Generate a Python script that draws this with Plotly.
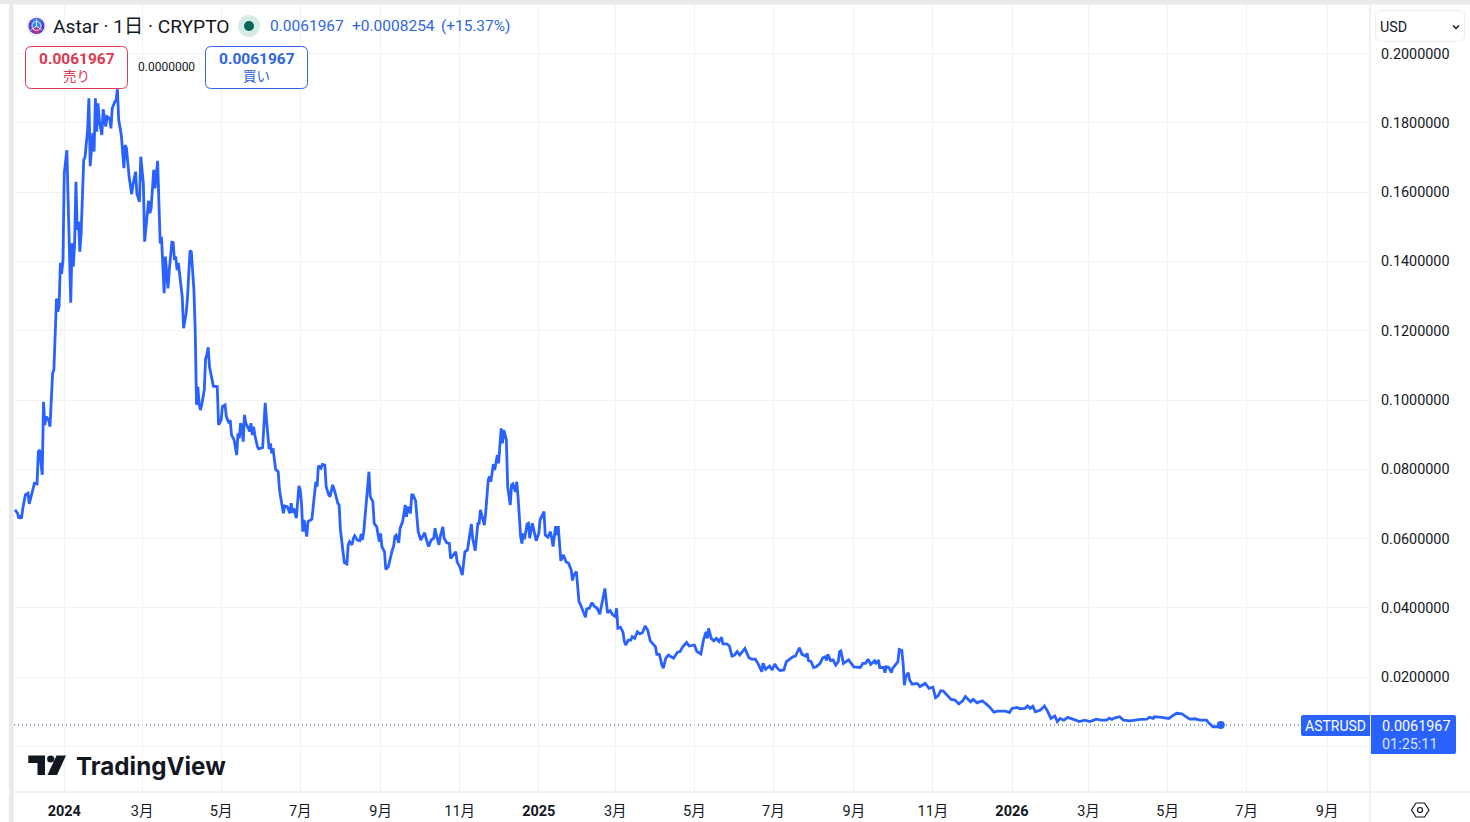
import pandas as pd
import plotly.graph_objects as go

# Daily ASTR/USD closes, stored as (days since first bar, price) per period.
START_DATE = "2023-11-24"

days_rally = [0,2,3,4,5,6,8,10,11,13,14,15,17,18,19,20,21,22,23,24,26,27,29,30,32,33,34,35,36,37,38,40,41,43,44,45,46,47,48,49,50,51,53,54,56,57,58,60,61,62,63,64,65,67,68,69,70,71,73,74,75,77,78,79,80,82,83,84,85,86,88,90,91,93,94,96,97,99,100,102,103,104,105,107,108,110,111,112,113,115,116,118,119,121,122,123,124,125,126,127,129,130]
prices_rally = [.0683,.0673,.0658,.0663,.0658,.0687,.0726,.0731,.0700,.0735,.0745,.0760,.0758,.0851,.0856,.0808,.0784,.0995,.0928,.0952,.0942,.0923,.1077,.1087,.1293,.1255,.1269,.1396,.1364,.1404,.1654,.1721,.1539,.1281,.1452,.1385,.1452,.1630,.1491,.1515,.1428,.1481,.1693,.1700,.1779,.1871,.1675,.1770,.1717,.1871,.1774,.1856,.1808,.1765,.1839,.1818,.1789,.1818,.1813,.1784,.1842,.1861,.1866,.1897,.1808,.1765,.1717,.1669,.1736,.1726,.1645,.1594,.1621,.1659,.1596,.1572,.1702,.1625,.1457,.1553,.1575,.1539,.1553,.1664,.1611,.1690,.1539,.1452,.1471,.1308,.1414,.1322,.1375,.1455,.1454,.1404,.1414,.1375,.1396,.1365,.1298,.1207]

days_2024 = [132,133,135,136,138,139,140,141,142,143,144,146,147,148,149,150,151,153,156,157,159,160,162,163,165,166,167,169,171,172,173,174,175,176,177,178,180,181,182,183,184,185,187,188,191,193,194,196,197,198,199,200,201,203,204,207,208,210,212,213,214,215,217,219,220,221,222,223,225,226,229,230,232,233,234,236,237,239,240,242,243,245,246,247,249,250,251,253,254,256,257,258,260,261,262,264,266,267,268,269,271,273,274,276,277,279,281,282,283,285,286,288,291,292,293,294,296,297,299,301,302,303,305,306,307,309,310,311,313,315,316,317,319,321,323,324,325,327,328,330,331,333,335,336,338,340,341,343,345,347,349,351,352,353,355,357,358,359,360,362,363,365,366,367,369,370,372,373,375,376,377,379,380,381,382,383,384,386,387,388,390]
prices_2024 = [.1250,.1293,.1431,.1428,.1317,.1202,.0986,.1039,.0990,.0971,.0986,.1029,.1120,.1130,.1152,.1096,.1077,.1040,.1039,.0928,.0942,.0981,.0986,.0952,.0933,.0942,.0899,.0885,.0841,.0904,.0889,.0933,.0923,.0880,.0957,.0933,.0918,.0909,.0933,.0899,.0923,.0899,.0865,.0859,.0863,.0992,.0942,.0858,.0875,.0846,.0861,.0827,.0800,.0793,.0740,.0673,.0694,.0692,.0673,.0702,.0675,.0687,.0659,.0752,.0740,.0702,.0620,.0654,.0606,.0649,.0656,.0692,.0764,.0750,.0810,.0803,.0814,.0812,.0750,.0726,.0721,.0755,.0745,.0731,.0702,.0697,.0625,.0553,.0531,.0527,.0582,.0591,.0582,.0601,.0608,.0596,.0594,.0613,.0596,.0620,.0711,.0793,.0721,.0707,.0644,.0634,.0591,.0615,.0577,.0562,.0511,.0519,.0567,.0577,.0606,.0610,.0588,.0630,.0649,.0697,.0663,.0692,.0673,.0726,.0726,.0709,.0663,.0620,.0596,.0610,.0617,.0601,.0577,.0596,.0601,.0630,.0610,.0582,.0606,.0634,.0601,.0588,.0586,.0543,.0553,.0562,.0533,.0519,.0495,.0562,.0567,.0620,.0642,.0601,.0565,.0644,.0644,.0683,.0668,.0639,.0673,.0769,.0779,.0764,.0815,.0798,.0841,.0817,.0918,.0875,.0913,.0885,.0750,.0721,.0697,.0755,.0758,.0735,.0764,.0721,.0606]

days_2025 = [391,392,393,395,396,397,399,401,402,404,405,408,409,411,413,414,415,417,418,419,421,423,425,427,429,430,431,433,435,436,438,440,441,443,445,447,449,451,453,455,457,459,461,463,464,465,467,469,470,471,473,475,476,478,480,482,484,486,488,490,492,494,495,497,499,500,502,504,506,508,511,513,515,518,520,524,526,529,531,533,534,535,537,539,541,543,545,546,549,551,553,555,557,559,563,566,568,571,573,576,577,579,582,584,586,588,590,593,595,598,600,602,605,607,610,611,612,614,616,618,621,623,625,626,627,629,631,633,635,636]
prices_2025 = [.0586,.0615,.0598,.0642,.0644,.0601,.0644,.0610,.0594,.0615,.0654,.0678,.0610,.0604,.0620,.0601,.0577,.0636,.0610,.0636,.0536,.0553,.0533,.0529,.0509,.0479,.0495,.0505,.0418,.0411,.0392,.0373,.0397,.0399,.0415,.0404,.0399,.0382,.0418,.0456,.0386,.0392,.0380,.0375,.0399,.0341,.0344,.0329,.0303,.0293,.0307,.0307,.0317,.0312,.0331,.0325,.0329,.0348,.0336,.0305,.0296,.0288,.0266,.0266,.0235,.0226,.0255,.0264,.0259,.0255,.0272,.0274,.0288,.0300,.0290,.0293,.0274,.0267,.0307,.0331,.0312,.0341,.0312,.0305,.0312,.0303,.0315,.0296,.0296,.0290,.0261,.0264,.0274,.0264,.0283,.0257,.0252,.0252,.0240,.0216,.0240,.0223,.0232,.0221,.0238,.0226,.0219,.0221,.0245,.0255,.0259,.0261,.0285,.0266,.0261,.0269,.0248,.0245,.0228,.0230,.0240,.0256,.0259,.0248,.0266,.0248,.0250,.0235,.0245,.0274]

days_late = [637,639,643,647,650,652,654,656,658,660,663,664,666,667,670,671,672,674,676,677,680,681,682,684,685,686,687,689,690,692,696,698,702,705,708,710,712,714,716,719,722,725,728,731,733,737,739,742,746,749,752,755,758,764,767,769,773,775,779,781,783,785,787,791,794,796,799,802,804,806,809,812,816,821,825,829,834,838,842,844,846,848,852,855,860,863,868,873,875,878,879,884,890,893,896,900,906,910,914,919,920,924,928,930]
prices_late = [.0276,.0240,.0250,.0230,.0230,.0228,.0240,.0240,.0252,.0237,.0247,.0238,.0250,.0228,.0228,.0213,.0230,.0228,.0213,.0226,.0240,.0245,.0280,.0277,.0240,.0177,.0201,.0213,.0192,.0180,.0182,.0173,.0182,.0168,.0171,.0141,.0146,.0161,.0160,.0149,.0136,.0134,.0123,.0132,.0144,.0129,.0136,.0126,.0132,.0123,.0113,.0099,.0102,.0102,.0098,.0110,.0113,.0109,.0110,.0117,.0110,.0116,.0100,.0105,.0117,.0105,.0081,.0088,.0072,.0081,.0076,.0084,.0078,.0072,.0076,.0072,.0079,.0076,.0076,.0082,.0078,.0082,.0086,.0076,.0074,.0076,.0078,.0079,.0084,.0081,.0086,.0084,.0081,.0089,.0096,.0094,.0079,.0080,.0076,.0076,.0071,.0057,.0057,.0061967]

LAST_PRICE = 0.0061967

month_ticks = ["2024-01-01","2024-03-01","2024-05-01","2024-07-01","2024-09-01","2024-11-01",
               "2025-01-01","2025-03-01","2025-05-01","2025-07-01","2025-09-01","2025-11-01",
               "2026-01-01","2026-03-01","2026-05-01","2026-07-01","2026-09-01"]
month_labels = ["<b>2024</b>","3月","5月","7月","9月","11月",
                "<b>2025</b>","3月","5月","7月","9月","11月",
                "<b>2026</b>","3月","5月","7月","9月"]
price_ticks = [0,.02,.04,.06,.08,.10,.12,.14,.16,.18,.20]
price_labels = ["","0.0200000","0.0400000","0.0600000","0.0800000","0.1000000",
                "0.1200000","0.1400000","0.1600000","0.1800000","0.2000000"]

W, H = 1470, 822
L, R, T, B = 14, 1370, 5, 792
BLUE = "#2962ff"
QUOTE_BLUE = "#2f66e0"
RED = "#e0394f"
INK = "#131722"
GRID = "#f1f2f5"
EDGE = "#e0e3e8"
FONT = "Roboto, 'Noto Sans CJK JP', sans-serif"

all_days = days_rally + days_2024 + days_2025 + days_late
all_prices = prices_rally + prices_2024 + prices_2025 + prices_late
assert len(all_days) == len(all_prices)
dates = pd.Timestamp(START_DATE) + pd.to_timedelta(all_days, unit="D")

DAY_PX = 1.2965
x_lo = pd.Timestamp(START_DATE) + pd.Timedelta(days=(L - 15) / DAY_PX)
x_hi = pd.Timestamp(START_DATE) + pd.Timedelta(days=(R - 15) / DAY_PX)


# Overlay furniture is laid out in page pixels and converted to paper space.
def px(x):
    return (x - L) / (R - L)


def py(y):
    return (B - y) / (B - T)


def path(points, close=True):
    cmds = [f"{'M' if i == 0 else 'L'} {px(a):.5f} {py(b):.5f}" for i, (a, b) in enumerate(points)]
    return " ".join(cmds) + (" Z" if close else "")


def round_rect(x0, y0, x1, y1, r_left=6.0, r_right=6.0):
    a, b = px, py
    return (f"M {a(x0 + r_left):.5f} {b(y0):.5f} L {a(x1 - r_right):.5f} {b(y0):.5f} "
            f"Q {a(x1):.5f} {b(y0):.5f} {a(x1):.5f} {b(y0 + r_right):.5f} "
            f"L {a(x1):.5f} {b(y1 - r_right):.5f} "
            f"Q {a(x1):.5f} {b(y1):.5f} {a(x1 - r_right):.5f} {b(y1):.5f} "
            f"L {a(x0 + r_left):.5f} {b(y1):.5f} "
            f"Q {a(x0):.5f} {b(y1):.5f} {a(x0):.5f} {b(y1 - r_left):.5f} "
            f"L {a(x0):.5f} {b(y0 + r_left):.5f} "
            f"Q {a(x0):.5f} {b(y0):.5f} {a(x0 + r_left):.5f} {b(y0):.5f} Z")


shapes = []


def add_path(d, fill="rgba(0,0,0,0)", line=None, width=1):
    shapes.append(dict(type="path", xref="paper", yref="paper", path=d, fillcolor=fill,
                       line=dict(color=line or "rgba(0,0,0,0)", width=width if line else 0),
                       layer="above"))


def add_box(x0, y0, x1, y1, fill):
    shapes.append(dict(type="rect", xref="paper", yref="paper", x0=px(x0), x1=px(x1),
                       y0=py(y0), y1=py(y1), fillcolor=fill, line=dict(width=0), layer="above"))


def add_disc(cx, cy, r, fill, line=None, width=1):
    shapes.append(dict(type="circle", xref="paper", yref="paper", x0=px(cx - r), x1=px(cx + r),
                       y0=py(cy + r), y1=py(cy - r), fillcolor=fill,
                       line=dict(color=line, width=width) if line else dict(width=0), layer="above"))


annotations = []


def add_text(x, y, text, size=14, color=INK, anchor="left", weight=None, family=FONT):
    font = dict(family=family, size=size, color=color)
    if weight:
        font["weight"] = weight
    annotations.append(dict(xref="paper", yref="paper", x=px(x), y=py(y), text=text, showarrow=False,
                            xanchor=anchor, yanchor="middle", font=font, borderpad=0, borderwidth=0))


# Page frame around the chart pane
add_box(0, 0, 1470, 4.5, "#e9e9e9")
add_box(9, 0, 13.5, 822, "#e9e9e9")
add_box(0, 4.5, 9, 822, "#ffffff")

# Axis separators
shapes.append(dict(type="line", xref="paper", yref="paper", x0=px(14), x1=px(1470), y0=py(B), y1=py(B),
                   line=dict(color=EDGE, width=1), layer="above"))
shapes.append(dict(type="line", xref="paper", yref="paper", x0=px(R), x1=px(R), y0=py(5), y1=py(822),
                   line=dict(color=EDGE, width=1), layer="above"))

# Last-price guide line, kept beneath the series
shapes.append(dict(type="line", xref="paper", yref="y", x0=0, x1=1, y0=LAST_PRICE, y1=LAST_PRICE,
                   line=dict(color="#1e3a8a", width=1, dash="1px,3px"), layer="below"))

# Symbol header
add_disc(36.5, 26, 10.5, "#f1eefb")
add_disc(36.5, 26, 8, "#5a3cc8")
add_disc(36.5, 23.5, 5, "#2f86ea")
add_disc(36.5, 30.5, 3, "#d6286f")
add_disc(36.5, 26, 4.5, "rgba(0,0,0,0)", line="#e8ecff", width=1)
add_path(path([(36.5, 19.5), (36.5, 26), (31, 30)], close=False), line="#e8ecff", width=1)
add_path(path([(36.5, 26), (42, 30)], close=False), line="#e8ecff", width=1)
add_text(53, 26.5, "Astar · 1日 · CRYPTO", size=19.2)
add_disc(249, 26, 11, "#d7ebe6")
add_disc(249, 26, 5, "#056656")
add_text(270, 25.5, "0.0061967", size=15.5, color=QUOTE_BLUE)
add_text(352, 25.5, "+0.0008254", size=15.5, color=QUOTE_BLUE)
add_text(441, 25.5, "(+15.37%)", size=15.4, color=QUOTE_BLUE)

# Sell / buy quote boxes
add_path(round_rect(25.5, 46.5, 127.5, 88.5), fill="#ffffff", line=RED)
add_text(76.5, 59, "0.0061967", size=15.5, color=RED, anchor="center", weight=700)
add_text(76.5, 76, "売り", size=13.5, color=RED, anchor="center")
add_text(166.5, 67, "0.0000000", size=12, color=INK, anchor="center")
add_path(round_rect(205.5, 46.5, 307.5, 88.5), fill="#ffffff", line=QUOTE_BLUE)
add_text(256.5, 59, "0.0061967", size=15.5, color=QUOTE_BLUE, anchor="center", weight=700)
add_text(256.5, 76, "買い", size=13.5, color=QUOTE_BLUE, anchor="center")

# Currency selector
add_path(round_rect(1375.5, 10.5, 1464.5, 41.5), fill="#ffffff", line="#eceef3")
add_text(1380, 27, "USD", size=14.3)
add_path(path([(1453, 25.5), (1456, 28.5), (1459, 25.5)], close=False), line=INK, width=1.5)

# Ticker and last-price tags on the axis
add_path(round_rect(1301, 715, 1370, 736, r_left=2, r_right=0.1), fill=BLUE)
add_text(1335.5, 725.5, "ASTRUSD", size=14, color="#ffffff", anchor="center")
add_path(round_rect(1371, 715, 1456, 754, r_left=0.1, r_right=2), fill=BLUE)
add_text(1382, 726, "0.0061967", size=14.4, color="#ffffff")
add_text(1382, 744, "01:25:11", size=14.4, color="#dbe4ff")

# Brand mark
add_path(path([(28.3, 755.5), (45, 755.5), (45, 775), (37.5, 775), (37.5, 763), (28.3, 763)]), fill=INK)
add_disc(50.7, 759, 3.6, INK)
add_path(path([(56.5, 755.5), (66, 755.5), (57, 775), (47.5, 775)]), fill=INK)
add_text(75.5, 766, "TradingView", size=24.2, color=INK, weight=700, family="Inter, Roboto, sans-serif")

# Axis settings button
add_path(path([(1411.5, 810), (1416, 803), (1424.5, 803), (1429, 810), (1424.5, 817), (1416, 817)]),
         line=INK, width=1.2)
add_disc(1420, 810, 2.5, "rgba(0,0,0,0)", line=INK, width=1.2)

fig = go.Figure()
fig.add_trace(go.Scatter(x=dates, y=all_prices, mode="lines", line=dict(color=BLUE, width=2.8),
                         hoverinfo="skip", showlegend=False))
fig.add_trace(go.Scatter(x=[dates[-1]], y=[LAST_PRICE], mode="markers",
                         marker=dict(color=BLUE, size=8), hoverinfo="skip", showlegend=False))

fig.update_layout(
    width=W, height=H, autosize=False,
    margin=dict(l=L, r=W - R, t=T, b=H - B, pad=0),
    paper_bgcolor="#ffffff", plot_bgcolor="#ffffff",
    font=dict(family=FONT, size=14, color=INK),
    shapes=shapes, annotations=annotations,
    xaxis=dict(type="date", range=[x_lo, x_hi], tickmode="array", tickvals=month_ticks, ticktext=month_labels,
               showgrid=True, gridcolor=GRID, gridwidth=1, zeroline=False, showline=False, ticks="",
               tickfont=dict(family=FONT, size=14.5, color=INK), tickangle=0, ticklabelstandoff=8,
               automargin=False),
    yaxis=dict(side="right", range=[(746.5 - B) / 3465, (746.5 - T) / 3465], tickmode="array",
               tickvals=price_ticks, ticktext=price_labels, showgrid=True, gridcolor=GRID, gridwidth=1,
               zeroline=False, showline=False, ticks="", tickfont=dict(family=FONT, size=14.4, color=INK),
               ticklabelstandoff=10, automargin=False),
)

fig.write_html("out.html", config={"displayModeBar": False})
